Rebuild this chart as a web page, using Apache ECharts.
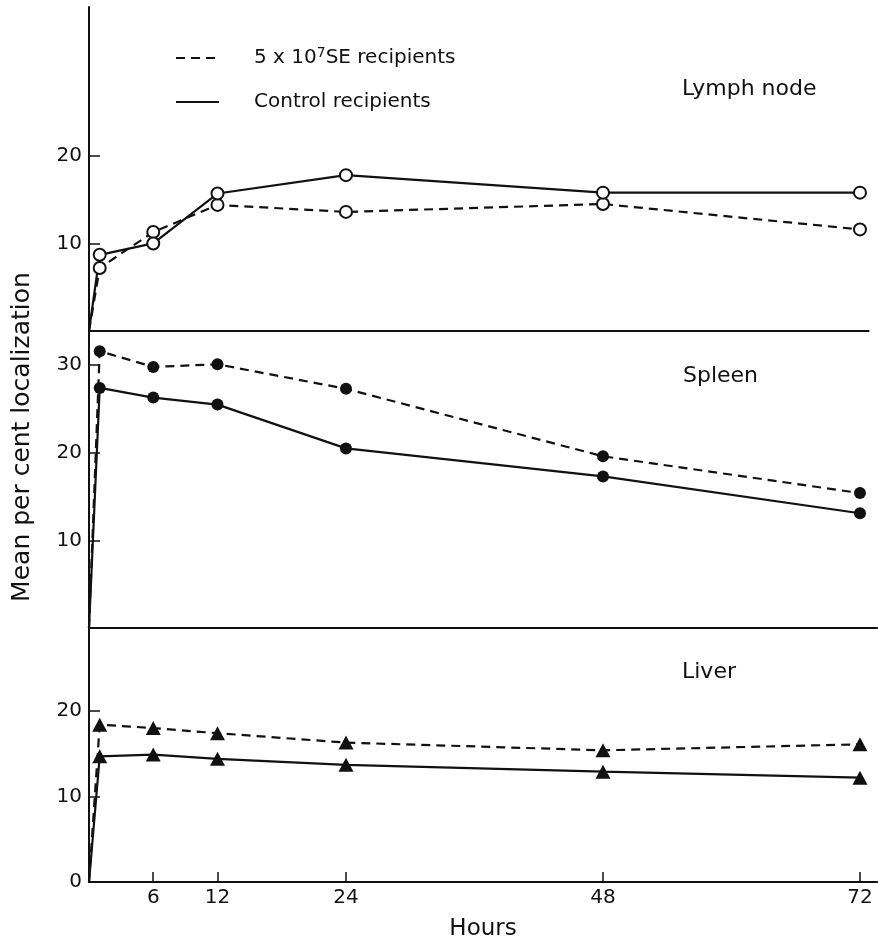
<!DOCTYPE html>
<html>
<head>
<meta charset="utf-8">
<script src="https://cdn.jsdelivr.net/npm/echarts@6/dist/echarts.min.js"></script>
<style>
html,body{margin:0;padding:0;background:#fff;}
#chart{width:878px;height:944px;}
</style>
</head>
<body>
<div id="chart"></div>
<script>
// Hours after injection (0 = origin of each panel)
const hours = [0, 1, 6, 12, 24, 48, 72];
const xTickValues = [6, 12, 24, 48, 72];

// Lymph node (% localization)
const lymphSE = [0, 7.2, 11.3, 14.4, 13.6, 14.5, 11.6];
const lymphControl = [0, 8.7, 10.0, 15.7, 17.8, 15.8, 15.8];
// Spleen
const spleenSE = [0, 31.6, 29.8, 30.1, 27.3, 19.6, 15.4];
const spleenControl = [0, 27.4, 26.3, 25.5, 20.5, 17.3, 13.1];
// Liver
const liverSE = [0, 18.4, 18.0, 17.4, 16.3, 15.4, 16.1];
const liverControl = [0, 14.7, 14.9, 14.4, 13.7, 12.9, 12.2];

const lymphTicks = [10, 20];
const spleenTicks = [10, 20, 30];
const liverTicks = [0, 10, 20];

const panelNames = ['Lymph node', 'Spleen', 'Liver'];
const seName = 'SE';
const controlName = 'Control';

const FONT = 'DejaVu Sans';
const INK = '#111';
const PX_PER_HOUR = 10.708;
const LEFT = 89;

function build(h, v) {
  return h.map((x, i) => i === 0 ? { value: [x, v[i]], symbol: 'none' } : [x, v[i]]);
}

const gridsDef = [
  { top: 7, height: 324, ymax: 37, xmax: 72.8, ticks: lymphTicks },
  { top: 331, height: 297, ymax: 33.9, xmax: 73.6, ticks: spleenTicks },
  { top: 628, height: 254, ymax: 29.7, xmax: 73.6, ticks: liverTicks }
];

const grid = gridsDef.map(g => ({
  left: LEFT, top: g.top, height: g.height, width: g.xmax * PX_PER_HOUR,
  containLabel: false, outerBoundsMode: 'none'
}));

const xAxis = gridsDef.map((g, i) => ({
  type: 'value', gridIndex: i, min: 0, max: g.xmax,
  splitLine: { show: false },
  axisLine: { show: true, onZero: false, lineStyle: { color: INK, width: 2 } },
  axisTick: i === 2 ? { show: true, inside: true, length: 10, customValues: xTickValues, lineStyle: { color: INK, width: 1.5 } } : { show: false },
  axisLabel: i === 2 ? { show: true, customValues: xTickValues, margin: 6, fontFamily: FONT, fontSize: 20, color: INK } : { show: false },
  name: i === 2 ? 'Hours' : '',
  nameLocation: 'middle', nameGap: 36,
  nameTextStyle: { fontFamily: FONT, fontSize: 23, color: INK }
}));

const yAxis = gridsDef.map((g, i) => ({
  type: 'value', gridIndex: i, min: 0, max: g.ymax,
  splitLine: { show: false },
  axisLine: { show: true, onZero: false, lineStyle: { color: INK, width: 2 } },
  axisTick: { show: true, inside: true, length: 11, customValues: g.ticks, lineStyle: { color: INK, width: 1.5 } },
  axisLabel: { show: true, customValues: g.ticks, margin: 7, fontFamily: FONT, fontSize: 20, color: INK }
}));

const dashed = { color: INK, width: 2.2, type: [9, 6] };
const solid = { color: INK, width: 2.2, type: 'solid' };

function mk(name, idx, h, v, lineStyle, symbol, size, filled) {
  return {
    type: 'line', name: name + ' ' + idx, xAxisIndex: idx, yAxisIndex: idx,
    data: build(h, v), lineStyle: lineStyle, symbol: symbol, symbolSize: size,
    showAllSymbol: true, silent: true, clip: false, z: 3,
    itemStyle: { color: filled ? INK : '#fff', borderColor: INK, borderWidth: filled ? 0 : 2 }
  };
}

const series = [
  // legend-only entries
  { type: 'line', name: seName, xAxisIndex: 0, yAxisIndex: 0, data: [], symbol: 'none', color: INK, lineStyle: dashed },
  { type: 'line', name: controlName, xAxisIndex: 0, yAxisIndex: 0, data: [], symbol: 'none', color: INK, lineStyle: solid },
  mk('se', 0, hours, lymphSE, dashed, 'circle', 12, false),
  mk('ctl', 0, hours, lymphControl, solid, 'circle', 12, false),
  mk('se', 1, hours, spleenSE, dashed, 'circle', 12, true),
  mk('ctl', 1, hours, spleenControl, solid, 'circle', 12, true),
  mk('se', 2, hours, liverSE, dashed, 'triangle', [15, 14], true),
  mk('ctl', 2, hours, liverControl, solid, 'triangle', [15, 14], true)
];

const option = {
  animation: false,
  backgroundColor: '#fff',
  grid: grid,
  xAxis: xAxis,
  yAxis: yAxis,
  legend: {
    data: [seName, controlName],
    orient: 'vertical', left: 170, top: 41,
    itemWidth: 43, itemHeight: 20, itemGap: 24,
    selectedMode: false,
    itemStyle: { opacity: 0 },
    lineStyle: { color: INK, width: 2 },
    formatter: n => n === seName ? '5 x 10{sup|7}SE recipients' : 'Control recipients',
    textStyle: {
      fontFamily: FONT, fontSize: 20, color: INK, padding: [0, 0, 0, 30],
      rich: { sup: { fontFamily: FONT, fontSize: 14, color: INK, verticalAlign: 'top', padding: [0, 0, 10, 0] } }
    }
  },
  title: [
    { text: panelNames[0], left: 682, top: 78, padding: 0, textStyle: { fontFamily: FONT, fontSize: 22, fontWeight: 'normal', color: INK } },
    { text: panelNames[1], left: 683, top: 365, padding: 0, textStyle: { fontFamily: FONT, fontSize: 22, fontWeight: 'normal', color: INK } },
    { text: panelNames[2], left: 682, top: 661, padding: 0, textStyle: { fontFamily: FONT, fontSize: 22, fontWeight: 'normal', color: INK } }
  ],
  graphic: [{
    type: 'text', x: 22, y: 437, rotation: Math.PI / 2,
    style: { text: 'Mean per cent localization', font: '25px "DejaVu Sans"', fill: INK, textAlign: 'center', textVerticalAlign: 'middle' }
  }],
  series: series
};

const chart = echarts.init(document.getElementById('chart'), null, { renderer: 'canvas' });
chart.setOption(option);
</script>
</body>
</html>
